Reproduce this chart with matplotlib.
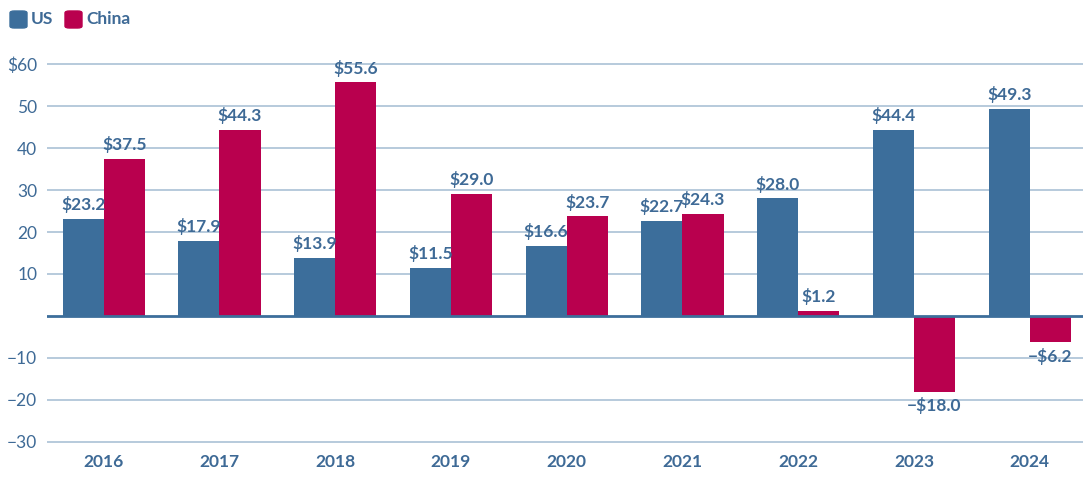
import matplotlib
matplotlib.use("Agg")
import matplotlib.pyplot as plt
from matplotlib.patches import FancyBboxPatch
import numpy as np

years = ["2016", "2017", "2018", "2019", "2020", "2021", "2022", "2023", "2024"]
us = [23.2, 17.9, 13.9, 11.5, 16.6, 22.7, 28.0, 44.4, 49.3]
china = [37.5, 44.3, 55.6, 29.0, 23.7, 24.3, 1.2, -18.0, -6.2]
yticks = [-30, -20, -10, 10, 20, 30, 40, 50, 60]
ytick_labels = ["\u221230", "\u221220", "\u221210", "10", "20", "30", "40", "50", "$60"]

US_C = "#3c6e9b"
CN_C = "#b9004e"
TXT = "#3e6a96"
GRID = "#aac1d6"

plt.rcParams['font.family'] = ['Lato', 'DejaVu Sans']

W, H = 1083, 486
fig = plt.figure(figsize=(W / 100, H / 100), dpi=100)
ylo, yhi = -30.6, 60.6
ppu = 4.2
top_px = 64 - (yhi - 60) * ppu
bot_px = 442 + (-30 - ylo) * ppu
ax = fig.add_axes([47 / W, 1 - bot_px / H, 1 - 47 / W, (bot_px - top_px) / H])
ax.set_ylim(ylo, yhi)
ax.set_xlim(-0.49, 8.46)

x = np.arange(len(years))
bw = 0.355
ax.bar(x - bw / 2, us, bw, color=US_C, zorder=3)
ax.bar(x + bw / 2, china, bw, color=CN_C, zorder=3)

for t in yticks:
    ax.axhline(t, color=GRID, lw=1.2, zorder=1)
ax.axhline(0, color=US_C, lw=2, zorder=4)

def fmt(v):
    s = f"${abs(v):.1f}"
    return ("\u2212" + s) if v < 0 else s

for xi, v in zip(x - bw / 2, us):
    ax.text(xi, v + 1.4, fmt(v), ha="center", va="bottom", color=TXT,
            fontsize=12.5, fontweight="bold", zorder=5)
for xi, v in zip(x + bw / 2, china):
    if v >= 0:
        ax.text(xi, v + 1.4, fmt(v), ha="center", va="bottom", color=TXT,
                fontsize=12.5, fontweight="bold", zorder=5)
    else:
        ax.text(xi, v - 1.4, fmt(v), ha="center", va="top", color=TXT,
                fontsize=12.5, fontweight="bold", zorder=5)

ax.set_yticks(yticks)
ax.set_yticklabels(ytick_labels)
ax.set_xticks(x)
ax.set_xticklabels(years, fontweight="bold")
ax.tick_params(axis="y", length=0, pad=7, labelsize=12.5, labelcolor=TXT)
ax.tick_params(axis="x", length=0, pad=7, labelsize=12.5, labelcolor=TXT)
for s in ax.spines.values():
    s.set_visible(False)

# legend
def sq(x0, color):
    p = FancyBboxPatch((x0 / W, 1 - 28 / H), 17 / W, 17 / H,
                       boxstyle="round,pad=0,rounding_size=0.004",
                       transform=fig.transFigure, color=color)
    fig.patches.append(p)

sq(10, US_C)
fig.text(31 / W, 1 - 19.5 / H, "US", color=TXT, fontsize=12.5, fontweight="bold", va="center")
sq(65, CN_C)
fig.text(86 / W, 1 - 19.5 / H, "China", color=TXT, fontsize=12.5, fontweight="bold", va="center")

fig.savefig("out.png", dpi=100)
